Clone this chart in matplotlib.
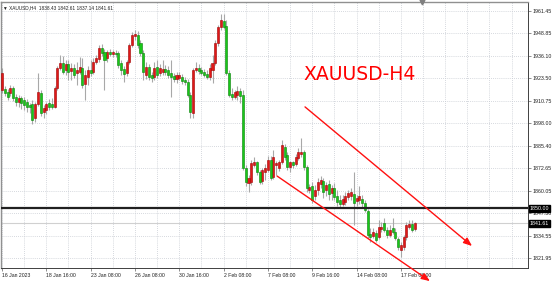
import matplotlib.pyplot as plt
import numpy as np

plt.rcParams['font.family'] = ['Liberation Sans', 'DejaVu Sans']

# XAUUSD H4 candles, 16 Jan - 17 Feb 2023
opens = [1916.9, 1917.4, 1915.7, 1915.2, 1918.0, 1912.9, 1910.1, 1912.3, 1911.2, 1910.1,
         1908.4, 1908.9, 1901.0, 1908.9, 1915.2, 1904.4, 1905.6, 1909.5, 1908.9, 1907.2,
         1918.0, 1929.3, 1932.1, 1928.1, 1931.5, 1927.6, 1929.3, 1926.4, 1927.0, 1929.3,
         1920.2, 1924.2, 1928.1, 1927.0, 1932.6, 1934.4, 1940.6, 1938.3, 1934.9, 1938.3,
         1937.2, 1937.7, 1937.7, 1932.1, 1928.7, 1926.4, 1932.6, 1942.3, 1947.3, 1947.9,
         1943.4, 1937.7, 1925.3, 1929.8, 1925.3, 1924.2, 1929.8, 1926.4, 1927.0, 1928.7,
         1928.1, 1926.4, 1924.8, 1923.1, 1923.6, 1924.2, 1922.5, 1921.4, 1914.0, 1903.9,
         1928.1, 1929.3, 1928.1, 1927.0, 1925.9, 1924.2, 1928.1, 1932.1, 1943.4, 1952.4,
         1955.8, 1953.0, 1926.4, 1914.6, 1912.9, 1914.0, 1916.3, 1914.0, 1872.8, 1864.3,
         1864.9, 1874.5, 1876.2, 1870.6, 1865.5, 1870.6, 1871.7, 1877.3, 1867.7, 1874.5,
         1872.8, 1876.2, 1884.7, 1880.2, 1873.4, 1876.2, 1875.1, 1878.5, 1880.7, 1881.8,
         1873.4, 1860.4, 1862.6, 1857.0, 1860.4, 1863.8, 1865.5, 1860.4, 1863.8, 1858.7,
         1861.5, 1857.0, 1854.7, 1852.5, 1853.6, 1856.4, 1857.0, 1858.1, 1854.2, 1854.7,
         1855.3, 1853.0, 1848.5, 1835.5, 1834.4, 1836.1, 1833.8, 1838.4, 1841.8, 1837.8,
         1835.0, 1838.9, 1836.7, 1832.7, 1826.5, 1828.2, 1833.8, 1839.5, 1841.2, 1838.43]
highs = [1929.3, 1919.1, 1917.4, 1919.7, 1919.1, 1914.6, 1914.0, 1913.5, 1912.9, 1911.8,
         1909.5, 1911.2, 1910.1, 1926.4, 1916.9, 1908.4, 1910.1, 1911.8, 1912.3, 1919.1,
         1930.4, 1936.6, 1936.0, 1933.8, 1933.8, 1932.1, 1931.5, 1932.6, 1935.5, 1934.9,
         1928.1, 1930.4, 1933.8, 1934.9, 1936.6, 1942.3, 1942.8, 1940.0, 1939.4, 1940.0,
         1939.4, 1939.4, 1938.9, 1933.8, 1930.4, 1933.8, 1943.4, 1949.6, 1950.7, 1950.2,
         1945.1, 1939.4, 1932.6, 1931.5, 1927.0, 1932.6, 1933.8, 1931.5, 1933.8, 1931.0,
         1930.4, 1933.8, 1926.4, 1927.0, 1927.0, 1925.9, 1924.2, 1923.1, 1915.7, 1929.3,
         1932.6, 1931.5, 1929.8, 1928.7, 1928.1, 1931.5, 1936.6, 1945.1, 1953.5, 1959.8,
         1959.8, 1956.4, 1928.1, 1918.0, 1916.9, 1919.1, 1918.0, 1916.9, 1874.5, 1868.9,
         1877.3, 1879.0, 1876.7, 1871.7, 1872.8, 1875.1, 1879.6, 1879.6, 1883.0, 1876.7,
         1877.3, 1888.6, 1886.4, 1881.8, 1876.7, 1876.7, 1880.7, 1884.1, 1889.7, 1883.0,
         1874.5, 1863.8, 1864.9, 1863.2, 1867.2, 1868.3, 1867.2, 1864.9, 1866.0, 1863.2,
         1864.3, 1860.4, 1857.6, 1857.6, 1859.3, 1860.4, 1861.5, 1870.6, 1857.6, 1862.6,
         1857.6, 1854.7, 1849.6, 1838.9, 1838.9, 1837.8, 1843.4, 1842.3, 1844.6, 1839.5,
         1840.6, 1844.6, 1838.9, 1833.8, 1831.0, 1834.9, 1842.3, 1843.6, 1843.4, 1842.61]
lows = [1915.2, 1913.5, 1911.2, 1913.5, 1910.6, 1907.8, 1907.2, 1906.1, 1905.6, 1904.4,
        1903.9, 1897.6, 1898.8, 1907.8, 1902.2, 1901.0, 1903.3, 1905.6, 1906.1, 1906.7,
        1916.9, 1928.1, 1925.9, 1925.3, 1922.5, 1922.5, 1923.6, 1919.7, 1925.9, 1918.0,
        1911.2, 1919.7, 1924.8, 1925.9, 1931.5, 1932.6, 1936.0, 1916.9, 1932.6, 1936.0,
        1935.5, 1935.5, 1929.3, 1925.3, 1921.4, 1924.8, 1931.5, 1941.1, 1945.1, 1940.6,
        1936.0, 1922.5, 1923.1, 1922.5, 1921.4, 1922.5, 1923.6, 1924.8, 1925.3, 1925.3,
        1923.6, 1912.9, 1921.4, 1920.8, 1922.5, 1920.2, 1919.7, 1912.9, 1901.0, 1901.0,
        1927.0, 1925.9, 1925.3, 1924.2, 1923.1, 1922.5, 1920.8, 1931.0, 1941.7, 1950.7,
        1951.3, 1925.3, 1912.9, 1911.2, 1911.8, 1911.2, 1909.5, 1871.7, 1862.6, 1859.3,
        1863.2, 1873.4, 1868.9, 1863.8, 1863.8, 1866.0, 1870.6, 1866.0, 1866.6, 1868.9,
        1871.1, 1875.1, 1877.3, 1871.7, 1870.6, 1872.8, 1874.0, 1877.3, 1879.0, 1871.7,
        1859.3, 1858.7, 1853.0, 1854.7, 1857.6, 1861.5, 1855.9, 1857.0, 1854.7, 1854.7,
        1854.7, 1851.3, 1850.2, 1851.3, 1851.9, 1854.7, 1854.7, 1840.6, 1851.3, 1852.5,
        1850.8, 1848.0, 1833.3, 1831.0, 1833.3, 1831.0, 1832.7, 1836.7, 1836.7, 1833.3,
        1833.8, 1835.5, 1832.2, 1826.5, 1822.6, 1826.5, 1832.2, 1838.4, 1836.7, 1837.14]
closes = [1926.4, 1915.2, 1912.9, 1918.0, 1912.3, 1910.1, 1912.3, 1909.5, 1908.4, 1907.2,
          1907.2, 1899.9, 1908.9, 1915.7, 1903.9, 1906.7, 1908.9, 1907.2, 1907.2, 1918.0,
          1929.3, 1932.1, 1927.0, 1931.5, 1927.0, 1929.3, 1925.3, 1928.1, 1929.8, 1919.7,
          1925.3, 1928.1, 1926.4, 1932.6, 1934.9, 1940.6, 1937.7, 1933.8, 1938.3, 1937.2,
          1938.3, 1937.2, 1931.0, 1928.1, 1925.9, 1932.6, 1942.3, 1947.9, 1948.5, 1942.3,
          1937.7, 1927.0, 1929.8, 1924.2, 1923.6, 1929.3, 1925.3, 1929.3, 1928.7, 1927.0,
          1925.3, 1924.2, 1923.1, 1925.3, 1925.3, 1921.9, 1921.4, 1914.0, 1904.4, 1928.1,
          1929.3, 1927.6, 1926.4, 1925.3, 1924.2, 1929.3, 1932.1, 1943.4, 1952.4, 1956.4,
          1952.4, 1926.4, 1914.0, 1912.9, 1915.7, 1916.3, 1913.5, 1872.8, 1864.9, 1867.2,
          1875.6, 1876.2, 1870.6, 1864.9, 1871.7, 1872.8, 1877.3, 1867.2, 1879.0, 1875.6,
          1876.2, 1885.8, 1879.0, 1873.4, 1876.2, 1874.5, 1879.0, 1881.8, 1881.8, 1873.4,
          1861.5, 1862.1, 1854.7, 1860.4, 1864.9, 1866.0, 1859.3, 1863.2, 1858.1, 1861.5,
          1856.4, 1853.6, 1852.5, 1855.3, 1857.0, 1858.7, 1859.3, 1853.0, 1855.9, 1857.0,
          1853.0, 1849.1, 1835.0, 1833.8, 1836.7, 1832.2, 1839.5, 1839.5, 1837.8, 1835.0,
          1837.8, 1836.7, 1833.3, 1828.2, 1829.3, 1833.8, 1840.6, 1841.3, 1837.8, 1841.61]

time_labels = ['16 Jan 2023', '18 Jan 16:00', '23 Jan 08:00', '26 Jan 08:00', '30 Jan 16:00',
               '2 Feb 08:00', '7 Feb 08:00', '9 Feb 16:00', '14 Feb 08:00', '17 Feb 08:00']
price_ticks = [1961.45, 1948.85, 1936.10, 1923.50, 1910.75, 1898.00, 1885.40,
               1872.65, 1860.05, 1847.30, 1834.55, 1821.95]
level_1850 = 1850.00

# descending channel drawn with arrows (bar index, price)
channel_upper = [(109.4, 1907.3), (169.7, 1828.8)]
channel_lower = [(99.3, 1868.3), (154.5, 1809.0)]

up_col, up_edge = '#e01818', '#a00000'
dn_col, dn_edge = '#18c818', '#0a800a'
wick_col = '#a8a8a8'

fig = plt.figure(figsize=(5.54, 2.81), dpi=100)
ax = fig.add_axes([1/554, 13/281, 527/554, 266/281])

n = len(closes)
x = np.arange(n)
o = np.array(opens); c = np.array(closes)
h = np.array(highs); l = np.array(lows)
up = c >= o

ax.vlines(x, l, h, color=wick_col, linewidth=0.8, zorder=2)
bw = 0.74
ax.bar(x[up], (c - o)[up], bottom=o[up], width=bw, color=up_col,
       edgecolor=up_edge, linewidth=0.4, zorder=3)
ax.bar(x[~up], (o - c)[~up], bottom=c[~up], width=bw, color=dn_col,
       edgecolor=dn_edge, linewidth=0.4, zorder=3)

ax.set_xlim(-0.36, 189.9)
ax.set_ylim(1816.4, 1966.5)

# grid
ax.set_yticks(price_ticks)
ax.set_yticklabels(['%.2f' % p for p in price_ticks])
ax.set_xticks(np.arange(0, 190, 8), minor=True)
ax.set_xticks(np.arange(0, 16 * len(time_labels), 16))
ax.set_xticklabels(time_labels, ha='left')
ax.grid(True, which='both', color='#c8ccd4', linestyle=(0, (1, 1.5)), linewidth=0.6, zorder=0)

ax.yaxis.tick_right()
ax.tick_params(axis='y', length=2, width=0.5, color='#606060', labelsize=3.8, pad=1.2,
               labelcolor='#202020')
ax.tick_params(axis='x', which='major', length=2, width=0.5, color='#606060', labelsize=3.7,
               pad=1.5, labelcolor='#202020')
ax.tick_params(axis='x', which='minor', length=0)
for s in ['left', 'top']:
    ax.spines[s].set_color('#909090')
    ax.spines[s].set_linewidth(1.0)
for s in ['right', 'bottom']:
    ax.spines[s].set_color('#404040')
    ax.spines[s].set_linewidth(0.7)

# support level and bid line
ax.axhline(level_1850, color='#202020', linewidth=1.6, zorder=4)
ax.axhline(closes[-1], color='#d0d0d0', linewidth=0.8, zorder=1)
for val in [level_1850, closes[-1]]:
    ax.text(1.003, val, '%.2f' % val, transform=ax.get_yaxis_transform(), fontsize=3.8,
            color='white', va='center', ha='left',
            bbox=dict(boxstyle='square,pad=0.2', fc='black', ec='black'), zorder=6, clip_on=False)

# channel arrows
for (x0, y0), (x1, y1) in [channel_upper, channel_lower]:
    ax.annotate('', xy=(x1, y1), xytext=(x0, y0), annotation_clip=False,
                arrowprops=dict(arrowstyle='-|>,head_length=0.5,head_width=0.2',
                                color='#ff1010', lw=1.0, shrinkA=0, shrinkB=0), zorder=5)

ax.text(0.681, 0.726, 'XAUUSD-H4', transform=ax.transAxes, color='#ff0000', fontsize=13.5,
        ha='center', va='center', family='DejaVu Sans')
ax.text(0.004, 0.988, '\u25BC XAUUSD,H4  1838.43 1842.61 1837.14 1841.61', transform=ax.transAxes,
        fontsize=3.4, color='#202020', ha='left', va='top')
ax.plot([151.6], [1966.5], marker='v', color='#808080', markersize=3.5, clip_on=False, zorder=7)

fig.savefig('out.png', dpi=100)
